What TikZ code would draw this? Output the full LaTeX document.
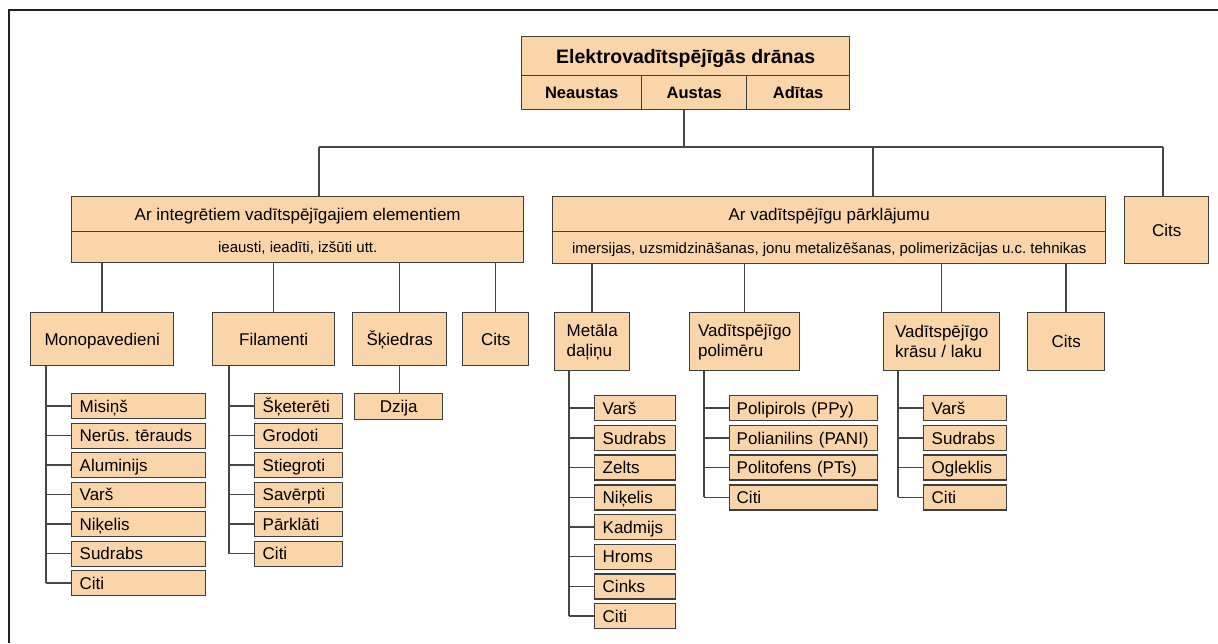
\documentclass[tikz,border=0pt]{standalone}
\usepackage{fontspec}
\setmainfont{Liberation Sans}
\frenchspacing
\definecolor{peach}{RGB}{251,213,170}
\definecolor{edge}{RGB}{62,62,62}
\definecolor{wire}{RGB}{70,70,70}
\definecolor{frameline}{RGB}{34,34,34}

\begin{document}
\begin{tikzpicture}[x=1pt,y=-1pt,
  cell/.style={draw=edge, fill=peach, line width=1.4pt, anchor=north west,
    inner sep=0pt, font=\fontsize{17}{20}\selectfont, text height=12.2pt, text depth=0pt},
  head/.style={font=\fontsize{19.5}{22}\selectfont\bfseries, text height=14pt},
  sub/.style={font=\fontsize{16.5}{19}\selectfont\bfseries, text height=11.8pt},
  note/.style={font=\fontsize{15}{18}\selectfont, text height=10.7pt},
  twoline/.style={cell, align=left, text height=, text depth=},
  leaf/.style={cell, minimum height=25pt, inner xsep=8pt, align=left},
  wire/.style={draw=wire, line width=1.5pt},
]
\useasboundingbox (0,0) rectangle (1218,643);

% page frame (top and left rules)
\draw[frameline, line width=2pt] (9,643) -- (9,10) -- (1218,10);

% root
\node[cell, head, minimum width=328pt, minimum height=39pt] (title) at (521,36) {Elektrovadītspējīgās drānas};
\node[cell, sub, minimum width=120pt, minimum height=34pt] (neaus) at (521,75) {Neaustas};
\node[cell, sub, minimum width=105pt, minimum height=34pt] (aus) at (641,75) {Austas};
\node[cell, sub, minimum width=103pt, minimum height=34pt] (adit) at (746,75) {Adītas};

% first level
\node[cell, minimum width=452pt, minimum height=35pt] (lbig) at (71,196) {Ar integrētiem vadītspējīgajiem elementiem};
\node[cell, note, minimum width=452pt, minimum height=31pt] (lnote) at (71,231) {ieausti, ieadīti, izšūti utt.};
\node[cell, minimum width=553pt, minimum height=35pt] (rbig) at (552,196) {Ar vadītspējīgu pārklājumu};
\node[cell, note, minimum width=553pt, minimum height=32pt] (rnote) at (552,231) {imersijas, uzsmidzināšanas, jonu metalizēšanas, polimerizācijas u.c. tehnikas};
\node[cell, minimum width=84pt, minimum height=67pt] (cits) at (1124,196) {Cits};

% bus under the root
\coordinate (busA) at (684,147);
\coordinate (busL) at (319,147);
\coordinate (busR) at (873,147);
\coordinate (busC) at (1163,147);
\draw[wire] (busA |- aus.south) -- (busA);
\draw[wire] (busL) -- (busC);
\draw[wire] (busL) -- (busL |- lbig.north);
\draw[wire] (busR) -- (busR |- rbig.north);
\draw[wire] (busC) -- (busC |- cits.north);

% second level, left branch
\node[cell, minimum width=143pt, minimum height=53pt] (mono) at (30,312) {Monopavedieni};
\node[cell, minimum width=122pt, minimum height=53pt] (fil) at (212,312) {Filamenti};
\node[cell, minimum width=94pt, minimum height=53pt] (skied) at (352,312) {Šķiedras};
\node[cell, minimum width=66pt, minimum height=53pt] (citsL) at (462,312) {Cits};
\foreach \n in {mono,fil,skied,citsL}
  \draw[wire] (lnote.south -| \n.north) -- (\n.north);

% second level, right branch
\node[twoline, minimum width=75pt, minimum height=58pt] (metal) at (554,312) {Metāla\\daļiņu};
\node[twoline, minimum width=110pt, minimum height=58pt] (poli) at (689,312) {Vadītspējīgo\\polimēru};
\node[twoline, minimum width=116pt, minimum height=58pt] (kras) at (883,312) {Vadītspējīgo\\krāsu / laku};
\node[cell, minimum width=77pt, minimum height=58pt] (citsR) at (1027,312) {Cits};
\foreach \n in {metal,poli,kras,citsR}
  \draw[wire] (rnote.south -| \n.north) -- (\n.north);

% leaf lists
\foreach \t [count=\i] in {Misiņš,Nerūs. tērauds,Aluminijs,Varš,Niķelis,Sudrabs,Citi}
  \node[leaf, text width=118pt] (mono\i) at (71,363.5+29.5*\i) {\t};
\foreach \t [count=\i] in {Šķeterēti,Grodoti,Stiegroti,Savērpti,Pārklāti,Citi}
  \node[leaf, text width=72pt] (fil\i) at (254,363.5+29.5*\i) {\t};
\node[cell, minimum width=88pt, minimum height=26pt] (dzija) at (354,393) {Dzija};
\foreach \t [count=\i] in {Varš,Sudrabs,Zelts,Niķelis,Kadmijs,Hroms,Cinks,Citi}
  \node[leaf, text width=65pt] (metal\i) at (594,365.3+29.7*\i) {\t};
\foreach \t [count=\i] in {Polipirols (PPy),Polianilins (PANI),Politofens (PTs),Citi}
  \node[leaf, inner xsep=7pt, text width=134pt] (poli\i) at (729,365.3+29.7*\i) {\t};
\foreach \t [count=\i] in {Varš,Sudrabs,Ogleklis,Citi}
  \node[leaf, text width=67pt] (kras\i) at (923,365.3+29.7*\i) {\t};

% list trunks and branches
\coordinate (tMono) at ([xshift=16pt]mono.south west);
\coordinate (tFil) at ([xshift=17pt]fil.south west);
\coordinate (tMetal) at ([xshift=15pt]metal.south west);
\coordinate (tPoli) at ([xshift=15pt]poli.south west);
\coordinate (tKras) at ([xshift=15pt]kras.south west);
\draw[wire] (tMono) -- (tMono |- mono7.west);
\foreach \i in {1,...,7} \draw[wire] (tMono |- mono\i.west) -- (mono\i.west);
\draw[wire] (tFil) -- (tFil |- fil6.west);
\foreach \i in {1,...,6} \draw[wire] (tFil |- fil\i.west) -- (fil\i.west);
\draw[wire] (tMetal) -- (tMetal |- metal8.west);
\foreach \i in {1,...,8} \draw[wire] (tMetal |- metal\i.west) -- (metal\i.west);
\draw[wire] (tPoli) -- (tPoli |- poli4.west);
\foreach \i in {1,...,4} \draw[wire] (tPoli |- poli\i.west) -- (poli\i.west);
\draw[wire] (tKras) -- (tKras |- kras4.west);
\foreach \i in {1,...,4} \draw[wire] (tKras |- kras\i.west) -- (kras\i.west);
\draw[wire] (skied.south) -- (skied.south |- dzija.north);
\end{tikzpicture}
\end{document}
